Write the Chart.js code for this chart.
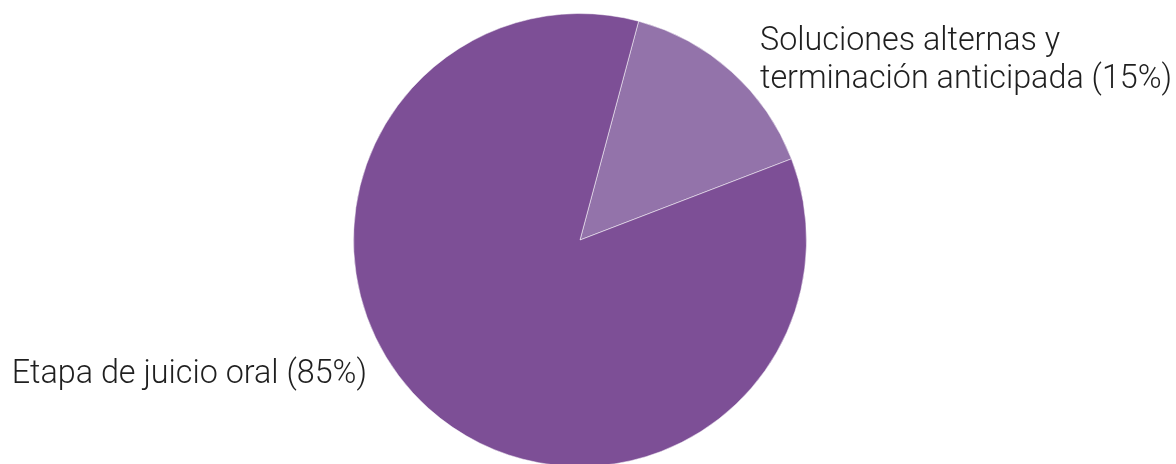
<!DOCTYPE html>
<html>
<head>
<meta charset="utf-8">
<script src="https://cdn.jsdelivr.net/npm/chart.js@4/dist/chart.umd.min.js"></script>
<style>
  html, body { margin: 0; padding: 0; background: #fff; overflow: hidden; }
  #wrap { width: 1176px; height: 480px; position: relative; }
</style>
</head>
<body>
<div id="wrap"><canvas id="pieChart"></canvas></div>
<script>
// data
const categories = ["Soluciones alternas y terminación anticipada", "Etapa de juicio oral"];
const shares = [15, 85];
const sliceColors = ["#9373AA", "#7D4F96"];

// label lines for each slice (drawn outside the pie)
const labelLines = [
  ["Soluciones alternas y", "terminación anticipada (15%)"],
  ["Etapa de juicio oral (85%)"]
];

const FONT = "300 32.3px Roboto";

// draws the outside labels, placed from the arc geometry
const outsideLabels = {
  id: "outsideLabels",
  afterDatasetsDraw(chart) {
    const ctx = chart.ctx;
    const arcs = chart.getDatasetMeta(0).data;
    if (!arcs.length) return;
    const cx = arcs[0].x;
    const cy = arcs[0].y;
    ctx.save();
    ctx.font = FONT;
    ctx.fillStyle = "#1f1f1f";
    ctx.textBaseline = "alphabetic";

    // small slice: label up and to the right
    ctx.textAlign = "left";
    labelLines[0].forEach((line, i) => {
      ctx.fillText(line, cx + 180, cy - 190 + i * 38);
    });

    // big slice: label on the lower left
    ctx.textAlign = "right";
    labelLines[1].forEach((line, i) => {
      ctx.fillText(line, cx - 213, cy + 143 + i * 38);
    });
    ctx.restore();
  }
};

new Chart(document.getElementById("pieChart"), {
  type: "pie",
  data: {
    labels: categories,
    datasets: [
      {
        data: shares,
        backgroundColor: sliceColors,
        borderColor: "rgba(255,255,255,0.5)",
        borderWidth: 1,
      },
    ],
  },
  options: {
    responsive: true,
    maintainAspectRatio: false,
    animation: false,
    rotation: 15,
    layout: { padding: { top: 13, bottom: 13, left: 0, right: 16 } },
    plugins: {
      legend: { display: false },
      tooltip: { enabled: false },
    },
  },
  plugins: [outsideLabels],
});
</script>
</body>
</html>
